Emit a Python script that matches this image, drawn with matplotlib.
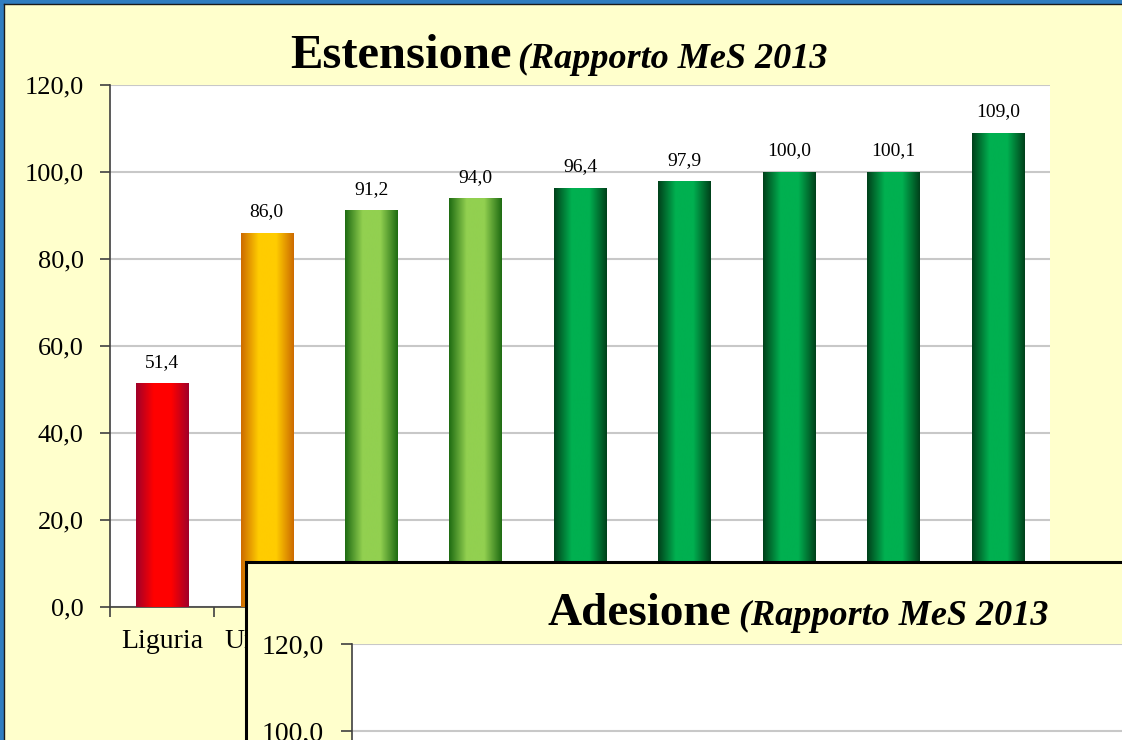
import numpy as np
import matplotlib
matplotlib.use("Agg")
import matplotlib.pyplot as plt
from matplotlib.patches import Rectangle
from matplotlib.lines import Line2D
from matplotlib.colors import LinearSegmentedColormap
from matplotlib.ticker import FuncFormatter, FixedLocator

# data
regions = ["Liguria", "Umbria", "", "", "", "", "", "", ""]
estensione = [51.4, 86.0, 91.2, 94.0, 96.4, 97.9, 100.0, 100.1, 109.0]
bar_class = ["red", "orange", "lgreen", "lgreen", "dgreen", "dgreen", "dgreen", "dgreen", "dgreen"]
y_ticks = [0, 20, 40, 60, 80, 100, 120]
y_ticks_overlay = [100, 120]

# gradient colours (edge, centre)
shades = {
    "red": ("#a0002a", "#ff0000"),
    "orange": ("#cc6a00", "#ffcc00"),
    "lgreen": ("#1e6b12", "#92d050"),
    "dgreen": ("#00401a", "#00b050"),
}

bg = "#ffffcc"
plt.rcParams["font.family"] = ["Liberation Serif", "DejaVu Serif"]

fig = plt.figure(figsize=(11.22, 7.40), dpi=100, facecolor=bg)

def fmt(v, pos=None):
    return f"{v:.1f}".replace(".", ",")

# ---- main chart ----
ax = fig.add_axes([110/1122, 1 - 607/740, 940/1122, 522/740])
ax.set_facecolor("white")
x = np.arange(len(regions))
bars = ax.bar(x, estensione, width=0.5, color="none", edgecolor="none", zorder=3)
for b, c in zip(bars, bar_class):
    edge, mid = shades[c]
    cm = LinearSegmentedColormap.from_list(c, [edge, mid, mid, edge], N=256)
    grad = np.linspace(0, 1, 256).reshape(1, -1)
    im = ax.imshow(grad, cmap=cm, aspect="auto", zorder=3,
                   extent=[b.get_x(), b.get_x() + b.get_width(), 0, b.get_height()])
    im.set_clip_path(b)
    ax.annotate(fmt(b.get_height()), (b.get_x() + b.get_width()/2, b.get_height()),
                xytext=(0, 9), textcoords="offset points", ha="center", va="bottom",
                fontsize=14, zorder=4)

ax.set_xlim(-0.5, len(regions) - 0.5)
ax.set_ylim(0, 120)
ax.yaxis.set_major_locator(FixedLocator(y_ticks))
ax.yaxis.set_major_formatter(FuncFormatter(fmt))
ax.grid(axis="y", color="#c8c8c8", linewidth=1.5, zorder=0)
ax.set_axisbelow(True)
ax.set_xticks(x)
ax.set_xticklabels(regions, fontsize=20)
ax.set_xticks(np.arange(len(regions) + 1) - 0.5, minor=True)
ax.tick_params(axis="x", which="major", length=0, pad=16)
ax.tick_params(axis="x", which="minor", length=7, width=1.2, color="#404040", direction="out")
ax.tick_params(axis="y", length=7, width=1.2, color="#404040", labelsize=19, pad=12)
for s in ["top", "right"]:
    ax.spines[s].set_visible(False)
for s in ["left", "bottom"]:
    ax.spines[s].set_color("#404040")
    ax.spines[s].set_linewidth(1.2)

# titles
t1 = fig.text(290/1122, 1 - 68/740, "Estensione", fontsize=35, fontweight="bold",
              ha="left", va="baseline")

# ---- overlay panel (second chart, partly visible) ----
panel = Rectangle((246/1122, -0.2), 1.0, 0.2 + 1 - 562/740, transform=fig.transFigure,
                  facecolor=bg, edgecolor="black", linewidth=2.2, zorder=5)
fig.patches.append(panel)

ax2 = fig.add_axes([352/1122, 1 - 644/740 - 522/740, 0.8, 522/740], zorder=6)
ax2.set_facecolor("white")
ax2.set_ylim(0, 120)
ax2.set_xlim(0, 1)
ax2.yaxis.set_major_locator(FixedLocator(y_ticks_overlay))
ax2.yaxis.set_major_formatter(FuncFormatter(fmt))
ax2.grid(axis="y", color="#c8c8c8", linewidth=1.5)
ax2.set_xticks([])
ax2.tick_params(axis="y", length=8, width=1.2, color="#404040", labelsize=20, pad=12)
for s in ["top", "right", "bottom"]:
    ax2.spines[s].set_visible(False)
ax2.spines["left"].set_color("#404040")
ax2.spines["left"].set_linewidth(1.2)

t2 = fig.text(548/1122, 1 - 625/740, "Adesione", fontsize=34, fontweight="bold",
              ha="left", va="baseline", zorder=7)

# italic parts placed right after the bold titles
fig.canvas.draw()
r = fig.canvas.get_renderer()
for t in (t1, t2):
    bb = t.get_window_extent(r)
    xx = (bb.x1 + 7) / fig.bbox.width
    fig.text(xx, t.get_position()[1], "(Rapporto MeS 2013", fontsize=26, style="italic",
             fontweight="bold", ha="left", va="baseline", zorder=7)

# outer slide border (left and top)
fig.lines.append(Line2D([1.5/1122, 1.5/1122], [0, 1], transform=fig.transFigure,
                        color="#2f7dc0", linewidth=3, zorder=10))
fig.lines.append(Line2D([0, 1], [1 - 1.5/740, 1 - 1.5/740], transform=fig.transFigure,
                        color="#2f7dc0", linewidth=3, zorder=10))
fig.lines.append(Line2D([3.5/1122, 3.5/1122], [0, 1 - 3.5/740], transform=fig.transFigure,
                        color="#1a1a1a", linewidth=1, zorder=10))
fig.lines.append(Line2D([3.5/1122, 1], [1 - 3.5/740, 1 - 3.5/740], transform=fig.transFigure,
                        color="#1a1a1a", linewidth=1, zorder=10))

fig.savefig("out.png", dpi=100, facecolor=bg)
